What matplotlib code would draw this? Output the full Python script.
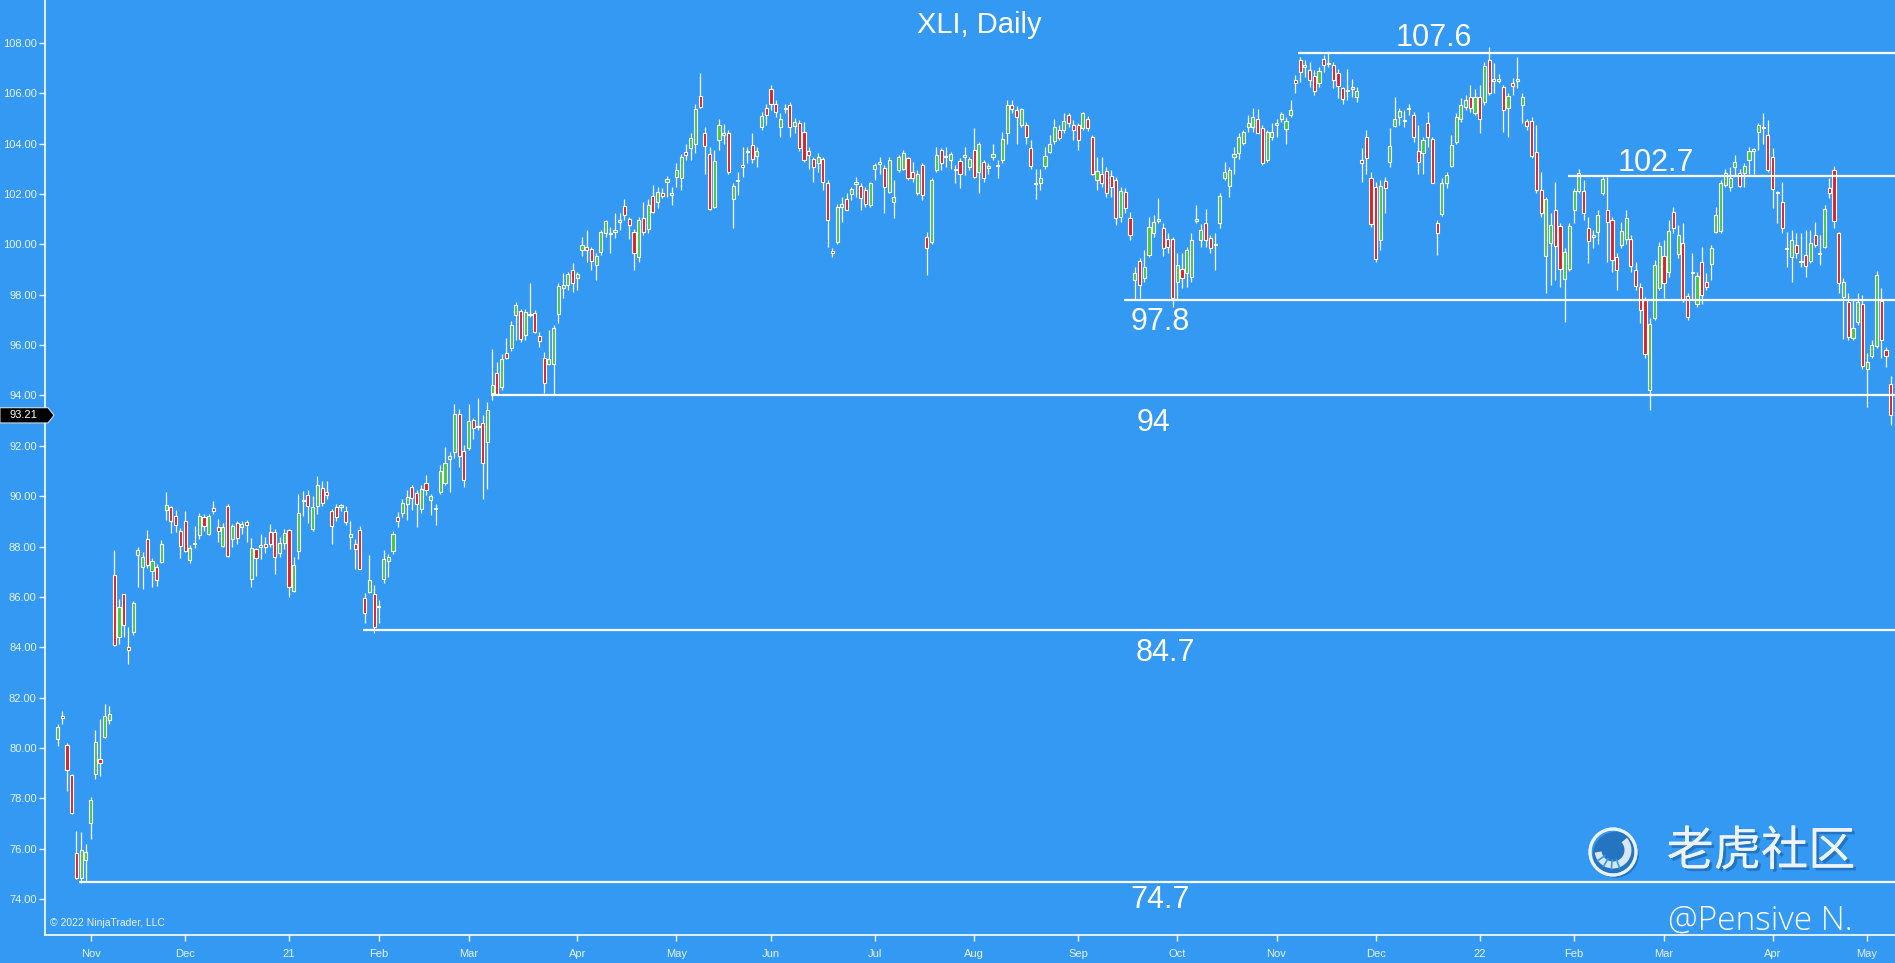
import matplotlib
matplotlib.use("Agg")
import matplotlib.pyplot as plt
import matplotlib.patheffects as pe
from matplotlib.patches import Polygon, Ellipse, Arc
import matplotlib.transforms as mtransforms
import numpy as np
import pandas as pd

# ---- data: XLI daily candles, 2020-10-22 .. 2022-05-09 ----
holidays = ["2020-11-26", "2020-12-25", "2021-01-01", "2021-01-18", "2021-02-15",
            "2021-04-02", "2021-05-31", "2021-07-05", "2021-09-06", "2021-11-25",
            "2021-12-24", "2022-01-17", "2022-02-21", "2022-04-15"]
dates = pd.bdate_range("2020-10-22", "2022-05-09", freq="C", holidays=holidays)

opens = [
    80.36, 81.26, 80.12, 78.94, 75.83, 74.84, 75.55, 77.02, 78.97, 79.55,
    80.45, 81.10, 86.86, 84.42, 86.10, 84.03, 84.60, 87.68, 87.20, 88.29,
    87.05, 87.20, 87.40, 89.46, 89.56, 89.20, 88.61, 89.00, 87.48, 88.09,
    88.46, 89.17, 88.50, 89.54, 88.77, 88.03, 89.63, 88.29, 88.93, 88.77,
    88.97, 86.72, 87.90, 88.00, 88.10, 88.57, 88.57, 87.75, 88.15, 88.66,
    86.25, 87.84, 89.80, 90.03, 88.68, 89.63, 90.33, 90.16, 89.40, 89.56,
    89.59, 89.43, 88.40, 88.10, 88.64, 85.94, 86.20, 86.10, 85.60, 86.70,
    87.41, 87.83, 89.18, 89.35, 89.68, 90.37, 90.11, 89.48, 90.53, 89.84,
    89.48, 90.17, 90.53, 91.46, 91.76, 93.28, 91.80, 91.93, 93.02, 92.73,
    92.91, 92.16, 94.08, 94.91, 94.34, 95.69, 95.87, 97.20, 97.36, 96.42,
    97.20, 97.28, 96.36, 95.47, 95.25, 95.25, 97.23, 98.25, 98.38, 99.00,
    98.65, 99.77, 99.90, 99.80, 99.17, 99.70, 100.43, 100.40, 100.47, 100.90,
    101.52, 100.99, 100.50, 99.48, 101.03, 100.59, 101.91, 101.68, 102.05, 102.48,
    101.97, 102.68, 102.65, 103.67, 103.81, 104.00, 105.90, 104.40, 103.58, 101.49,
    104.14, 104.36, 104.40, 101.78, 102.50, 103.12, 103.66, 103.94, 103.52, 104.64,
    105.42, 106.15, 105.59, 104.66, 105.38, 105.55, 104.69, 104.82, 104.47, 103.71,
    103.37, 103.21, 103.40, 102.44, 99.74, 100.10, 101.49, 101.79, 101.99, 102.38,
    102.31, 102.15, 101.56, 103.01, 103.17, 103.04, 102.08, 101.69, 102.97, 103.01,
    103.41, 102.88, 102.05, 103.14, 100.30, 100.10, 102.95, 103.74, 103.46, 103.34,
    102.95, 103.32, 103.48, 103.08, 103.74, 102.88, 103.25, 103.04, 103.48, 103.11,
    103.34, 104.43, 105.53, 105.33, 104.73, 104.73, 103.81, 102.38, 102.44, 103.12,
    103.67, 104.11, 104.54, 104.54, 105.13, 104.73, 104.73, 104.60, 104.96, 104.27,
    102.57, 102.81, 102.92, 102.71, 102.55, 101.07, 102.09, 101.05, 98.58, 99.34,
    98.65, 99.57, 100.43, 100.94, 100.66, 100.23, 100.23, 98.51, 99.04, 98.85,
    98.71, 100.94, 100.17, 100.83, 100.27, 99.98, 100.86, 102.62, 102.31, 103.48,
    103.61, 104.03, 104.64, 104.66, 104.96, 104.60, 103.34, 104.27, 104.73, 104.96,
    104.56, 105.13, 106.54, 107.31, 107.04, 106.92, 106.68, 106.39, 107.34, 107.16,
    107.11, 106.81, 106.19, 106.08, 106.15, 105.86, 103.34, 104.27, 102.62, 102.28,
    100.17, 102.52, 103.25, 104.69, 105.04, 104.88, 105.38, 105.13, 103.71, 103.61,
    104.82, 104.20, 100.83, 101.20, 102.42, 103.10, 104.07, 104.96, 105.46, 105.83,
    105.20, 105.83, 105.66, 107.31, 106.50, 106.50, 106.23, 105.40, 106.39, 106.50,
    105.53, 104.90, 104.90, 103.67, 102.15, 99.53, 100.06, 101.38, 100.72, 98.61,
    99.04, 101.38, 102.10, 102.13, 100.63, 100.31, 100.50, 102.05, 101.36, 100.96,
    99.50, 99.97, 100.23, 100.23, 98.98, 98.32, 97.79, 94.21, 97.06, 98.25,
    99.53, 98.91, 101.29, 99.61, 100.06, 97.94, 98.85, 97.65, 99.31, 98.51,
    99.21, 100.50, 100.54, 102.35, 102.28, 103.08, 102.84, 102.84, 103.34, 103.71,
    104.47, 104.61, 104.33, 103.45, 102.03, 101.69, 99.82, 99.50, 99.97, 99.29,
    99.57, 99.35, 100.37, 99.62, 99.90, 102.22, 102.95, 100.43, 97.92, 97.72,
    96.30, 96.93, 97.63, 95.07, 95.56, 95.96, 97.76, 95.80, 94.45,
]
highs = [
    80.95, 81.48, 80.20, 78.98, 76.70, 76.65, 76.20, 78.07, 80.70, 81.15,
    81.77, 81.67, 87.87, 85.92, 86.12, 84.80, 85.85, 87.97, 87.80, 88.66,
    87.55, 87.30, 88.25, 90.15, 89.60, 89.45, 88.75, 89.40, 88.05, 88.80,
    89.35, 89.30, 89.30, 89.80, 89.10, 88.95, 89.70, 88.90, 89.00, 89.00,
    89.05, 88.35, 87.95, 88.50, 88.40, 88.90, 88.70, 88.40, 88.70, 88.70,
    87.60, 90.10, 90.20, 90.25, 90.00, 90.80, 90.60, 90.60, 89.50, 89.70,
    89.70, 89.60, 89.00, 88.30, 88.80, 86.14, 87.66, 86.47, 85.87, 87.86,
    87.72, 88.61, 89.38, 89.90, 90.26, 90.44, 90.24, 90.44, 90.86, 90.10,
    89.71, 91.23, 91.96, 91.76, 93.65, 93.48, 92.02, 93.65, 93.12, 93.88,
    93.22, 93.74, 95.86, 95.33, 95.66, 96.30, 96.95, 97.72, 97.45, 97.45,
    98.47, 97.39, 96.53, 95.74, 96.60, 96.79, 98.45, 98.85, 98.90, 99.27,
    98.90, 100.30, 100.56, 99.90, 99.64, 100.56, 100.96, 100.70, 101.23, 101.23,
    101.78, 101.09, 100.59, 101.09, 101.69, 101.78, 102.35, 102.28, 102.22, 102.71,
    102.28, 103.24, 103.58, 104.00, 104.40, 105.57, 106.81, 104.67, 103.87, 103.74,
    104.99, 104.77, 104.54, 102.42, 102.88, 103.87, 103.87, 104.40, 103.87, 105.26,
    105.59, 106.32, 105.72, 105.20, 105.59, 105.66, 105.00, 104.95, 104.86, 103.87,
    103.48, 103.61, 103.48, 102.55, 99.84, 101.62, 101.89, 102.02, 102.28, 102.68,
    102.42, 102.28, 102.48, 103.21, 103.48, 103.14, 103.48, 102.55, 103.54, 103.74,
    103.48, 103.28, 102.94, 103.21, 100.50, 102.62, 103.87, 103.81, 103.87, 103.67,
    103.14, 103.41, 103.87, 103.48, 104.60, 104.07, 103.34, 103.21, 104.00, 103.34,
    104.47, 105.72, 105.72, 105.49, 105.40, 104.86, 104.14, 103.01, 103.01, 103.87,
    104.33, 104.99, 104.73, 105.20, 105.22, 104.93, 104.80, 105.26, 105.09, 104.33,
    103.48, 103.48, 103.08, 102.95, 102.68, 102.28, 102.22, 101.29, 99.11, 99.44,
    99.77, 101.09, 101.16, 101.82, 100.83, 100.43, 100.30, 99.64, 99.64, 99.90,
    100.43, 101.56, 100.80, 101.42, 100.37, 100.43, 102.02, 103.28, 103.08, 103.87,
    104.40, 104.54, 105.13, 105.40, 105.36, 104.73, 104.54, 104.80, 104.99, 105.26,
    105.06, 105.72, 106.72, 107.45, 107.31, 107.25, 106.92, 107.05, 107.51, 107.64,
    107.25, 106.98, 106.25, 106.98, 106.58, 106.25, 103.81, 104.54, 102.88, 102.48,
    102.55, 102.68, 104.60, 105.86, 105.40, 105.33, 105.59, 105.26, 104.73, 104.27,
    105.26, 104.27, 100.96, 102.62, 102.88, 104.33, 105.20, 105.79, 105.92, 106.32,
    106.15, 106.32, 107.25, 107.84, 107.18, 106.78, 106.32, 105.99, 106.62, 107.42,
    105.99, 104.99, 105.06, 104.73, 102.88, 101.89, 101.23, 102.48, 100.83, 99.84,
    100.83, 102.22, 103.01, 102.55, 101.09, 100.56, 101.36, 102.68, 102.68, 101.09,
    99.64, 100.89, 101.36, 100.37, 99.31, 98.45, 97.92, 97.06, 99.37, 100.10,
    100.17, 100.96, 101.49, 100.76, 100.83, 98.05, 99.64, 98.91, 99.90, 98.85,
    99.97, 101.49, 102.55, 103.01, 103.08, 103.54, 103.01, 103.21, 103.87, 103.81,
    104.82, 105.20, 104.93, 103.81, 102.13, 102.48, 100.50, 100.56, 100.43, 100.43,
    100.56, 100.56, 100.89, 100.37, 101.56, 102.62, 103.10, 100.50, 98.65, 98.05,
    97.79, 98.05, 97.98, 95.67, 96.20, 98.95, 98.25, 95.93, 94.77,
]
lows = [
    80.10, 80.95, 78.30, 77.38, 74.80, 74.66, 74.73, 76.40, 78.77, 78.90,
    80.40, 80.95, 84.07, 84.13, 84.42, 83.34, 84.50, 86.38, 86.30, 87.15,
    86.40, 86.45, 87.35, 89.06, 88.53, 88.57, 87.55, 87.80, 87.35, 87.95,
    88.30, 88.60, 88.45, 89.30, 88.20, 87.98, 87.60, 88.00, 88.10, 88.50,
    88.20, 86.40, 86.85, 87.50, 87.75, 88.00, 86.90, 87.60, 87.90, 86.00,
    86.20, 87.50, 89.20, 88.95, 88.60, 89.30, 89.60, 89.90, 88.10, 89.00,
    89.40, 88.85, 87.90, 87.10, 87.10, 84.95, 86.14, 84.55, 84.95, 86.56,
    86.80, 87.72, 88.78, 89.18, 89.07, 89.44, 88.78, 89.34, 90.04, 89.25,
    88.85, 90.10, 90.44, 90.17, 91.50, 91.17, 90.37, 91.83, 92.29, 92.62,
    89.87, 90.30, 93.81, 94.01, 94.21, 95.46, 95.75, 96.20, 96.13, 96.20,
    97.12, 96.46, 95.93, 94.08, 95.20, 94.01, 96.86, 97.85, 98.18, 98.12,
    98.18, 99.53, 99.30, 99.00, 98.58, 99.57, 100.30, 99.64, 100.27, 100.56,
    100.96, 100.23, 98.98, 99.31, 100.37, 100.46, 101.23, 101.43, 101.82, 101.89,
    101.56, 102.28, 102.15, 103.34, 103.34, 103.64, 105.40, 102.81, 101.36, 101.43,
    103.74, 104.00, 102.81, 100.63, 101.96, 102.68, 103.21, 103.21, 103.08, 104.53,
    104.73, 105.33, 105.06, 104.27, 105.20, 104.27, 104.40, 103.70, 103.28, 103.01,
    102.48, 102.88, 102.15, 99.90, 99.51, 100.03, 100.90, 101.36, 101.76, 101.89,
    101.36, 101.49, 101.49, 102.55, 102.81, 101.23, 102.02, 101.03, 102.88, 102.94,
    102.55, 102.48, 101.96, 101.76, 98.78, 100.03, 102.88, 102.94, 103.08, 103.01,
    102.42, 102.22, 102.75, 102.94, 102.62, 102.02, 102.48, 102.81, 103.34, 102.62,
    103.21, 104.00, 105.20, 104.00, 104.66, 104.00, 103.01, 101.78, 102.15, 103.01,
    103.61, 104.00, 104.14, 104.40, 104.66, 104.14, 103.74, 104.53, 104.50, 102.75,
    102.15, 102.28, 101.89, 101.89, 100.76, 100.90, 101.23, 100.17, 97.79, 97.85,
    98.51, 99.51, 100.30, 100.86, 99.53, 99.64, 97.52, 97.79, 98.25, 98.32,
    98.51, 100.83, 99.90, 99.90, 99.64, 98.98, 100.63, 102.55, 101.89, 102.81,
    103.37, 103.94, 104.47, 104.47, 104.40, 103.14, 103.28, 104.14, 104.27, 104.86,
    104.00, 105.06, 105.99, 106.45, 106.65, 106.25, 105.92, 106.23, 106.85, 107.05,
    106.19, 105.79, 105.59, 105.72, 105.86, 105.66, 102.48, 102.81, 100.70, 99.30,
    99.77, 101.23, 103.08, 104.66, 104.73, 104.66, 105.13, 104.07, 102.81, 102.81,
    103.87, 102.42, 99.57, 101.12, 102.22, 103.08, 104.00, 104.86, 105.33, 105.26,
    105.13, 104.40, 105.53, 105.92, 105.99, 106.39, 104.47, 104.27, 105.92, 106.19,
    104.80, 104.53, 103.41, 102.02, 101.09, 98.05, 98.38, 98.58, 98.32, 96.93,
    98.95, 100.83, 102.02, 100.96, 99.24, 99.84, 100.03, 101.96, 99.31, 98.91,
    98.18, 99.84, 100.03, 98.91, 98.18, 96.86, 95.47, 93.42, 96.99, 98.18,
    97.85, 98.71, 100.43, 99.44, 97.72, 96.99, 97.79, 97.52, 97.65, 98.18,
    98.58, 100.43, 100.43, 102.28, 102.13, 102.75, 102.28, 102.28, 102.81, 102.81,
    103.74, 104.00, 102.88, 101.43, 100.83, 100.43, 99.10, 98.51, 99.44, 99.10,
    98.71, 99.24, 99.90, 99.17, 99.84, 101.82, 100.63, 98.05, 96.26, 96.20,
    96.20, 96.79, 95.07, 93.55, 95.47, 95.87, 95.47, 95.14, 92.82,
]
closes = [
    80.82, 81.20, 79.13, 77.42, 74.86, 75.95, 75.88, 77.93, 80.24, 79.39,
    81.27, 81.35, 84.10, 85.59, 84.90, 83.90, 85.76, 87.87, 87.60, 87.25,
    87.44, 86.69, 88.10, 89.67, 89.00, 88.85, 88.04, 87.84, 87.95, 88.16,
    89.20, 88.81, 89.20, 89.43, 88.61, 88.77, 87.62, 88.83, 88.33, 88.90,
    88.87, 87.95, 87.55, 88.08, 88.00, 88.10, 87.60, 88.15, 88.54, 86.41,
    87.27, 89.34, 89.86, 89.63, 89.56, 90.46, 89.72, 90.03, 88.82, 89.17,
    89.66, 88.99, 88.50, 87.90, 87.11, 85.38, 86.67, 84.81, 85.63, 87.49,
    87.57, 88.49, 89.00, 89.75, 89.98, 89.91, 89.68, 90.30, 90.24, 90.00,
    89.52, 90.99, 91.30, 91.59, 93.28, 91.59, 90.63, 92.99, 92.70, 92.77,
    91.30, 93.44, 94.43, 94.05, 95.43, 95.50, 96.79, 97.59, 96.24, 97.32,
    97.24, 96.53, 96.17, 94.50, 95.44, 96.66, 98.34, 98.38, 98.82, 98.47,
    98.82, 99.97, 99.77, 99.34, 99.55, 100.50, 100.91, 100.45, 100.56, 100.94,
    101.16, 100.76, 99.64, 100.96, 100.50, 101.56, 101.28, 102.09, 101.91, 102.61,
    102.01, 102.97, 103.45, 103.54, 104.24, 105.36, 105.46, 103.90, 101.42, 103.32,
    104.73, 104.40, 102.88, 102.32, 102.53, 103.08, 103.68, 103.38, 103.71, 105.09,
    105.13, 105.57, 105.26, 104.99, 105.41, 104.64, 104.84, 103.81, 103.34, 103.54,
    103.08, 103.48, 102.48, 100.96, 99.64, 101.49, 101.60, 101.38, 102.18, 102.49,
    101.82, 101.62, 102.42, 103.14, 103.28, 102.28, 103.34, 101.89, 103.48, 103.64,
    102.62, 102.64, 102.81, 101.96, 99.84, 102.55, 103.54, 103.21, 103.50, 103.57,
    102.99, 102.79, 103.52, 103.37, 102.68, 103.98, 102.62, 103.06, 103.57, 103.13,
    104.20, 105.53, 105.36, 105.04, 105.36, 104.27, 103.10, 102.40, 102.65, 103.50,
    104.00, 104.67, 104.24, 104.90, 104.82, 104.54, 104.14, 105.22, 104.60, 102.81,
    102.92, 102.44, 102.02, 102.28, 101.03, 102.13, 101.43, 100.37, 98.87, 98.38,
    99.11, 100.67, 100.90, 100.98, 99.84, 99.90, 97.85, 99.17, 98.65, 99.77,
    100.19, 100.98, 100.56, 100.17, 99.87, 100.02, 101.91, 102.88, 102.97, 103.58,
    104.27, 104.46, 104.80, 105.04, 104.43, 103.21, 104.47, 104.47, 104.82, 105.16,
    104.90, 105.33, 106.41, 106.85, 107.10, 106.52, 106.10, 106.89, 107.11, 107.20,
    106.52, 106.28, 105.75, 106.12, 106.23, 106.08, 103.21, 103.41, 100.80, 99.40,
    102.31, 102.22, 103.90, 104.99, 105.29, 104.92, 105.42, 104.27, 103.28, 104.14,
    104.27, 102.44, 100.46, 102.42, 102.75, 103.94, 105.04, 105.53, 105.72, 105.40,
    105.83, 104.96, 107.07, 106.01, 106.54, 106.54, 105.33, 105.88, 106.28, 106.54,
    105.86, 104.69, 103.50, 102.15, 101.23, 101.78, 100.76, 99.93, 99.04, 99.70,
    100.72, 102.13, 102.84, 101.23, 100.14, 100.35, 101.16, 102.58, 100.90, 99.37,
    99.00, 100.52, 101.03, 99.13, 98.34, 97.41, 95.64, 96.83, 99.17, 99.93,
    98.45, 100.54, 100.63, 100.37, 97.79, 97.12, 98.89, 98.74, 97.98, 98.32,
    99.84, 101.16, 102.44, 102.84, 102.65, 103.28, 102.31, 103.10, 103.71, 103.77,
    104.73, 104.65, 102.97, 102.18, 102.07, 100.63, 99.86, 100.19, 99.64, 99.33,
    99.13, 100.06, 99.97, 99.66, 101.42, 102.02, 100.93, 98.45, 98.51, 96.33,
    96.66, 97.72, 95.16, 95.33, 96.00, 98.78, 96.20, 95.56, 93.21,
]

# horizontal support / resistance levels drawn on the chart
levels = [74.7, 84.7, 94.0, 97.8, 107.6, 102.7]
level_names = ["74.7", "84.7", "94", "97.8", "107.6", "102.7"]
level_from = ["2020-10-29", "2021-01-27", "2021-03-08", "2021-09-16", "2021-11-08", "2022-01-31"]
label_x = [233.3, 234.4, 231.9, 233.3, 291.4, 338.2]   # bar index of label centre
label_y = [73.98, 83.79, 92.9, 96.93, 108.2, 103.21]

BG = "#3399F3"
UP = "#3ECB3A"
DOWN = "#DC1F2A"
FG = "#E8F2FF"

n = min(len(dates), len(opens), len(highs), len(lows), len(closes))
x = np.arange(n)
o = np.asarray(opens[:n]); h = np.asarray(highs[:n])
l = np.asarray(lows[:n]); c = np.asarray(closes[:n])

fig = plt.figure(figsize=(18.95, 9.63), dpi=100, facecolor=BG)
ax = fig.add_axes([45 / 1895, 28 / 963, 1850 / 1895, 935 / 963], facecolor=BG)

# candles
ax.vlines(x, l, h, color="white", lw=0.9, zorder=2)
body_lo = np.minimum(o, c)
body_h = np.maximum(np.abs(c - o), 0.05)
ax.bar(x, body_h, bottom=body_lo, width=0.66,
       color=np.where(c >= o, UP, DOWN), edgecolor="white", linewidth=0.8, zorder=3)

ax.set_xlim(-2.65, 388.9)
ax.set_ylim(72.58, 109.7)

# levels
pos = {d.strftime("%Y-%m-%d"): i for i, d in enumerate(dates)}
for lev, name, start, lx, ly in zip(levels, level_names, level_from, label_x, label_y):
    ax.hlines(lev, pos[start] - 0.35, 388.9, color="white", lw=1.6, zorder=4)
    ax.text(lx, ly, name, color="white", fontsize=22, ha="center", va="center",
            family="Liberation Sans", zorder=5)

# axes styling
for s in ["top", "right"]:
    ax.spines[s].set_visible(False)
for s in ["left", "bottom"]:
    ax.spines[s].set_color("white")
    ax.spines[s].set_linewidth(1.2)

ax.set_yticks(np.arange(74, 109, 2))
ax.set_yticklabels([f"{v:.2f}" for v in np.arange(74, 109, 2)])
ax.tick_params(axis="y", colors="white", labelcolor=FG, length=4, width=1, pad=2, labelsize=8)

month = dates.to_period("M")
first = [i for i in range(1, n) if month[i] != month[i - 1]]
ticklabels = [dates[i].strftime("%y") if dates[i].month == 1 else dates[i].strftime("%b") for i in first]
ax.set_xticks(first)
ax.set_xticklabels(ticklabels)
ax.tick_params(axis="x", colors="white", labelcolor=FG, length=4, width=1, pad=6, labelsize=8)
for t in ax.get_xticklabels() + ax.get_yticklabels():
    t.set_family("Liberation Sans")

# title and credits
fig.text(979 / 1895, 1 - 25 / 963, "XLI, Daily", color="white", fontsize=21,
         ha="center", va="center", family="Liberation Sans")
ax.text(5 / 1850, (935 - 922.5) / 935, "\u00a9 2022 NinjaTrader, LLC",
        transform=ax.transAxes, color=FG, fontsize=7.5, ha="left", va="center",
        family="Liberation Sans")

# last price marker
last = c[-1]
trans = mtransforms.blended_transform_factory(fig.transFigure, ax.transData)
hw = 0.3
marker = Polygon([(0, last - hw), (48 / 1895, last - hw), (54 / 1895, last),
                  (48 / 1895, last + hw), (0, last + hw)], closed=True,
                 facecolor="black", edgecolor="white", lw=0.6, transform=trans,
                 clip_on=False, zorder=6)
fig.add_artist(marker)
fig.text(23 / 1895, 1 - 414.5 / 963, f"{last:.2f}", color="white", fontsize=8,
         ha="center", va="center", family="Liberation Sans", zorder=7)

# watermark
WM = "#EEF4FB"
shadow = [pe.withSimplePatchShadow(offset=(2, -2), shadow_rgbFace="#1a5c9e", alpha=0.6), pe.Normal()]
fig.text(1761 / 1895, 1 - 852 / 963, "老虎社区", color=WM, fontsize=34, fontweight="medium",
         ha="center", va="center", family=["Noto Sans CJK SC", "DejaVu Sans"],
         path_effects=shadow, alpha=0.95)
cx, cy, r = 1613, 852, 23
fx, fy = cx / 1895, 1 - cy / 963
logo = Ellipse((fx, fy), 2 * r / 1895, 2 * r / 963, transform=fig.transFigure,
               fill=False, edgecolor=WM, lw=2.2, alpha=0.9, path_effects=shadow)
fig.add_artist(logo)
band = Arc((fx, fy + 2 / 963), 30 / 1895, 30 / 963, theta1=195, theta2=420,
           transform=fig.transFigure, edgecolor=WM, lw=5, alpha=0.9)
fig.add_artist(band)
# stripes across the band
for ang in [215, 240, 265, 290]:
    t = np.deg2rad(ang)
    xs = [fx + 10 * np.cos(t) / 1895, fx + 19 * np.cos(t) / 1895]
    ys = [fy + 2 / 963 + 10 * np.sin(t) / 963, fy + 2 / 963 + 19 * np.sin(t) / 963]
    fig.add_artist(plt.Line2D(xs, ys, transform=fig.transFigure, color=BG, lw=1.2))
fig.text(1760 / 1895, 1 - 921 / 963, "@Pensive N.", color="white", fontsize=24,
         ha="center", va="center", family="Open Sans", fontweight="light")

fig.savefig("out.png", dpi=100, facecolor=BG)
